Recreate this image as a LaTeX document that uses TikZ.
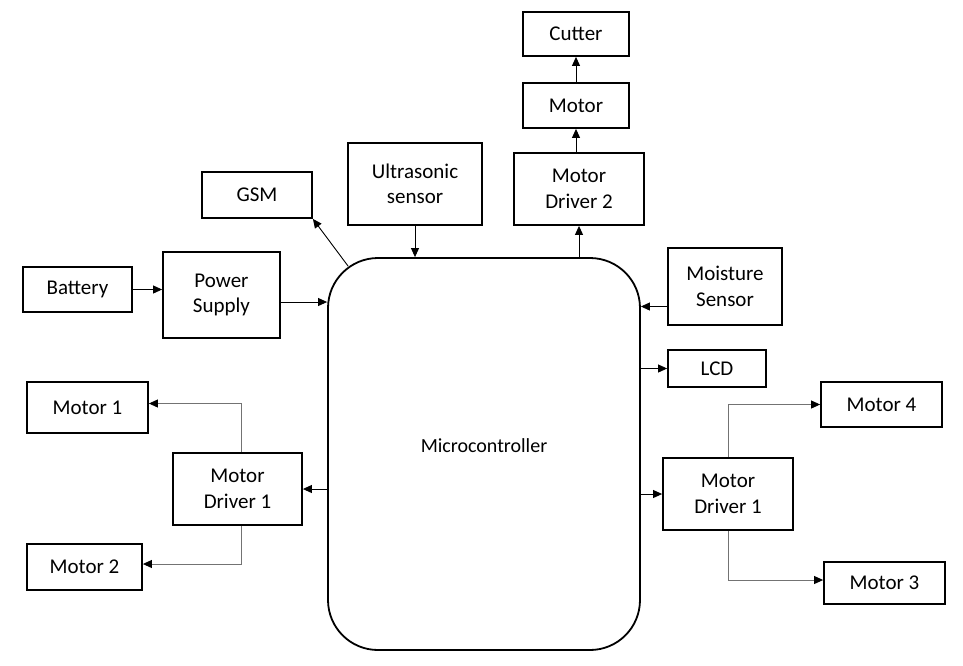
\documentclass[tikz,border=0pt]{standalone}
\usepackage{fontspec}
\setmainfont{Carlito}
\usepackage{tikz}
\usetikzlibrary{arrows.meta}

\tikzset{
  blk/.style={draw,line width=1.8pt,minimum width=#1,inner sep=2pt,align=center,
    font=\fontsize{21}{25.5}\selectfont},
  conn/.style={-{Triangle[length=9pt,width=8pt]},line width=0.9pt},
  gconn/.style={-{Triangle[length=9pt,width=8pt,color=black]},line width=0.9pt,draw=black!55},
}

\begin{document}
\begin{tikzpicture}[x=1pt,y=-1pt]
\useasboundingbox (0,0) rectangle (963,665);

% top column
\node[blk=106pt,minimum height=44pt](cutter) at (576,34){Cutter};
\node[blk=106pt,minimum height=45pt](motor) at (576,105.5){Motor};
\node[blk=130pt,minimum height=72pt](drvtwo) at (579,189){Motor\\Driver 2};
\node[blk=134pt,minimum height=82pt](ultra) at (415,184){Ultrasonic\\sensor};
\node[blk=110pt,minimum height=46pt](gsm) at (257,195){GSM};

% left side
\node[blk=109pt,minimum height=45pt](battery) at (77.5,289.5){Battery};
\node[blk=117pt,minimum height=86pt](power) at (221.5,295){Power\\Supply};
\node[blk=121pt,minimum height=51pt](motorone) at (87.5,407.5){Motor 1};
\node[blk=129pt,minimum height=72pt](drvleft) at (237.5,489){Motor\\Driver 1};
\node[blk=115pt,minimum height=46pt](motortwo) at (84.5,567){Motor 2};

% controller
\node[draw,line width=1.8pt,rounded corners=50pt,minimum width=312pt,minimum height=392pt](mcu) at (484,454){};
\node[font=\fontsize{20}{24}\selectfont](mcutext) at (484,446){Microcontroller};

% right side
\node[blk=114pt,minimum height=77pt](moist) at (725,286.5){Moisture\\Sensor};
\node[blk=98pt,minimum height=37pt](lcd) at (717,368.5){LCD};
\node[blk=121pt,minimum height=45pt](motorfour) at (881.5,404.5){Motor 4};
\node[blk=130pt,minimum height=72pt](drvright) at (728,494){Motor\\Driver 1};
\node[blk=121pt,minimum height=42pt](motorthree) at (884.5,583){Motor 3};

% arrows
\draw[conn](battery.east)--(battery.east-|power.west);
\draw[conn]([yshift=-7pt]power.east)--([yshift=-7pt]power.east-|mcu.west);
\draw[conn]([shift={(21,9)}]mcu.north west)--(gsm.south east);
\draw[conn](ultra.south)--(ultra.south|-mcu.north);
\draw[conn](drvtwo.south|-mcu.north)--(drvtwo.south);
\draw[conn](drvtwo.north-|motor.south)--(motor.south);
\draw[conn](motor.north)--(cutter.south);
\draw[conn]([yshift=-20pt]moist.west)--([yshift=-20pt]moist.west-|mcu.east);
\draw[conn](lcd.west-|mcu.east)--(lcd.west);
\draw[conn](drvright.west-|mcu.east)--(drvright.west);
\draw[conn](drvleft.east-|mcu.west)--(drvleft.east);

% driver outputs
\draw[gconn]([xshift=4pt]drvleft.north)|-([yshift=4pt]motorone.east);
\draw[gconn]([xshift=4pt]drvleft.south)|-([yshift=3pt]motortwo.east);
\draw[gconn](drvright.north)|-(motorfour.west);
\draw[gconn](drvright.south)|-([yshift=3pt]motorthree.west);
\end{tikzpicture}
\end{document}
